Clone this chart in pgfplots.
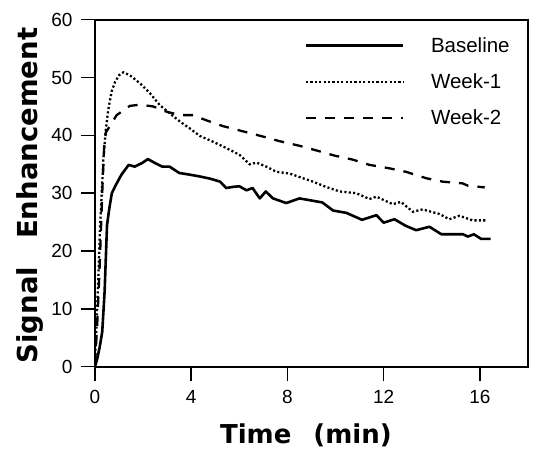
\documentclass[border=0pt]{standalone}
\usepackage{pgfplots}
\pgfplotsset{compat=1.18}
\usepackage{fontspec}
\setmainfont{Liberation Sans}
\newfontfamily\labfont{DejaVu Sans}

\begin{document}
\begin{tikzpicture}
\begin{axis}[
  scale only axis,
  width=433pt, height=347pt,
  xmin=0, xmax=18, ymin=0, ymax=60,
  xtick={0,4,8,12,16},
  ytick={0,10,20,30,40,50,60},
  tick align=outside,
  tick pos=left,
  major tick length=14pt,
  every tick/.style={black, line width=1.5pt},
  axis line style={line width=1.6pt},
  /pgf/number format/assume math mode=true,
  tick label style={font=\fontsize{19}{22}\selectfont},
  xticklabel style={yshift=-6pt},
  yticklabel style={xshift=-5pt},
  xlabel={Time\hspace{22pt}(min)},
  ylabel={Signal\hspace{28pt}Enhancement},
  xlabel style={font=\labfont\bfseries\fontsize{26}{30}\selectfont,
    at={(axis description cs:0.487,-0.222)}, anchor=base},
  ylabel style={font=\labfont\bfseries\fontsize{27.5}{32}\selectfont,
    at={(axis description cs:-0.133,0.493)}, anchor=base},
  legend style={draw=none, fill=none, at={(axis cs:8.71,57.0)},
    anchor=north west, inner sep=0pt, row sep=20pt,
    font=\fontsize{20.5}{24}\selectfont, nodes={inner sep=0pt}},
  legend cell align=left,
  legend image code/.code={
    \draw[#1] (0pt,0pt) -- (97pt,0pt);
    \path[draw=none, fill=none] (0pt,0pt) -- (125pt,0pt);
  },
]
% Baseline
\addplot[black, line width=2.6pt, line join=round] coordinates {
  (0,0)(0.1,1.5)(0.2,3.5)(0.3,6)(0.4,13)(0.5,24.5)(0.6,27.5)(0.7,30)
  (0.85,31.3)(1.1,33.2)(1.4,34.9)(1.65,34.6)(1.95,35.2)(2.2,35.9)
  (2.5,35.2)(2.8,34.6)(3.1,34.6)(3.5,33.5)(3.95,33.2)(4.35,32.9)
  (4.8,32.5)(5.2,32.0)(5.45,30.9)(5.75,31.1)(6.0,31.2)(6.3,30.5)
  (6.55,30.9)(6.85,29.1)(7.1,30.3)(7.4,29.1)(7.95,28.3)(8.5,29.1)
  (9.05,28.7)(9.45,28.4)(9.9,27.0)(10.45,26.6)(11.1,25.4)(11.7,26.2)
  (12.0,24.9)(12.45,25.5)(12.9,24.4)(13.35,23.6)(13.9,24.2)(14.4,22.9)
  (15.3,22.9)(15.5,22.5)(15.75,22.9)(16.05,22.1)(16.45,22.1)
};
\addlegendentry{Baseline}
% Week-1
\addplot[black, line width=2.3pt, dash pattern=on 2.1pt off 2.3pt] coordinates {
  (0,0.5)(0.07,8)(0.14,15.6)(0.21,24.2)(0.28,30)(0.35,36)(0.45,41)
  (0.55,44.4)(0.69,47.6)(0.83,49.2)(1.0,50.4)(1.18,50.9)(1.45,50.4)
  (1.87,49.0)(2.28,47.3)(2.7,45.2)(3.11,43.8)(3.53,42.4)(3.94,41.2)
  (4.36,39.9)(4.91,38.9)(5.46,37.8)(6.02,36.6)(6.43,35.0)(6.71,35.3)
  (7.12,34.6)(7.54,33.7)(8.09,33.4)(8.5,32.8)(9.06,32.0)(9.6,31.1)
  (10.17,30.3)(10.86,30.0)(11.41,29.0)(11.7,29.4)(12.38,28.1)(12.72,28.5)
  (13.21,26.8)(13.62,27.2)(14.32,26.4)(14.73,25.5)(15.15,26.1)(15.7,25.3)
  (16.32,25.3)
};
\addlegendentry{Week-1}
% Week-2
\addplot[black, line width=2.3pt, dash pattern=on 10pt off 9pt] coordinates {
  (0,0.5)(0.1,8)(0.2,18)(0.3,30)(0.38,38)(0.45,40.5)(0.6,41.5)(0.9,43.5)
  (1.45,45.1)(1.87,45.3)(2.42,45.0)(2.97,44.1)(3.53,43.5)(4.08,43.5)
  (4.63,42.6)(5.32,41.6)(6.15,40.7)(6.98,39.8)(7.67,39.0)(8.5,38.2)
  (9.2,37.4)(9.96,36.5)(10.72,35.8)(11.41,34.9)(12.24,34.3)(12.93,33.7)
  (13.76,32.6)(14.45,32.0)(15.28,31.7)(15.5,31.3)(16.2,31.0)
};
\addlegendentry{Week-2}
\end{axis}
\path (current axis.south west) ++(-95pt,-84.3pt) rectangle ++(535pt,451pt);
\end{tikzpicture}
\end{document}
